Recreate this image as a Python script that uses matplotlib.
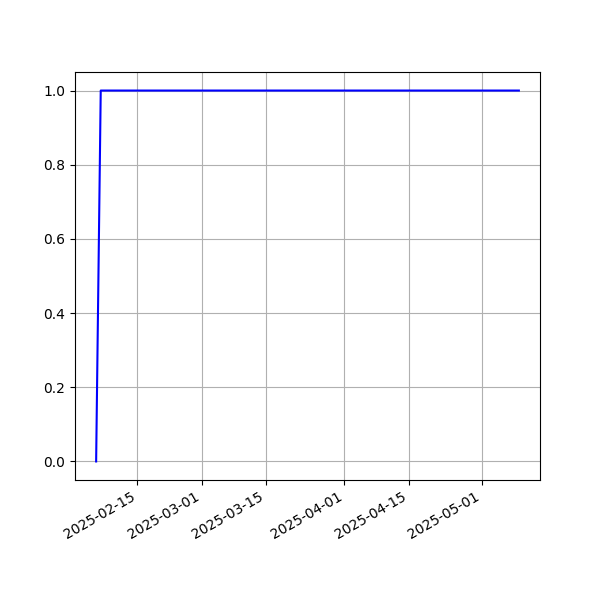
import matplotlib

matplotlib.use("Agg", force=True)

import matplotlib.pyplot as plt
import pandas as pd

dates = pd.to_datetime(["2025-02-06", "2025-02-07", "2025-05-09"])
values = [0.0, 1.0, 1.0]

fig, ax = plt.subplots(figsize=(6.0, 6.0), dpi=100)
ax.plot(dates, values, color="blue")
ax.grid(True)
fig.autofmt_xdate()
fig.savefig("out.png")
